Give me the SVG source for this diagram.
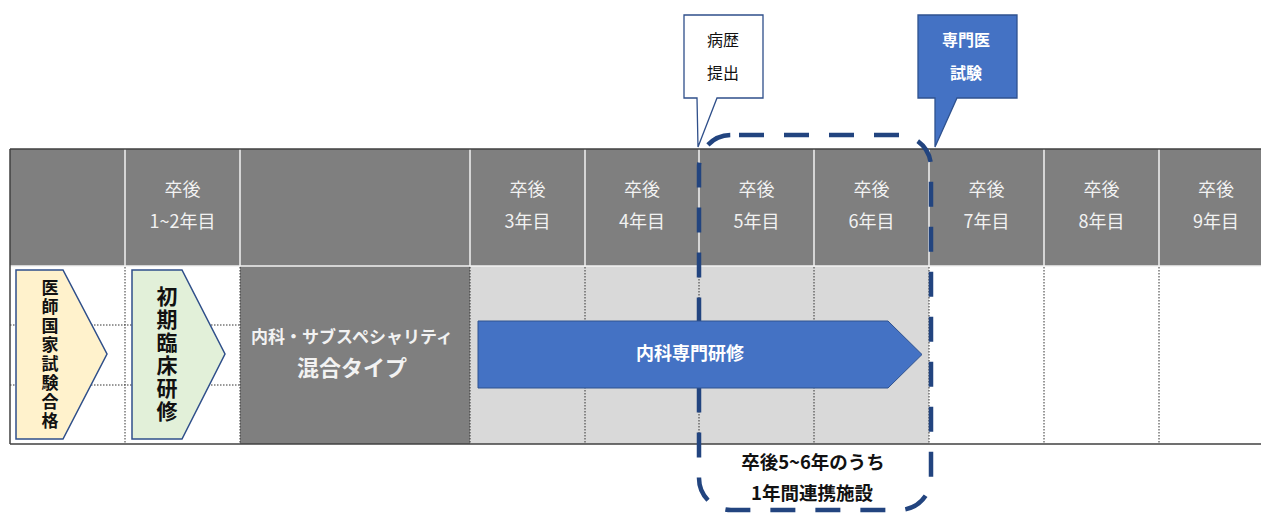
<svg xmlns="http://www.w3.org/2000/svg" width="1261" height="513" viewBox="0 0 1261 513">
<style>
.jp{font-family:"Noto Sans CJK JP","Noto Sans",sans-serif}
.hd{font-size:18px;fill:#f2f2f2;text-anchor:middle}
.dot{stroke:#333;stroke-width:1;stroke-dasharray:1.5 1.5;fill:none}
.wl{stroke:#f2f2f2;stroke-width:1.5}
.vt{font-weight:bold;fill:#111;text-anchor:middle;writing-mode:vertical-rl}
</style>
<rect width="1261" height="513" fill="#fff"/>
<g id="table">
  <rect x="10" y="149" width="1251" height="117" fill="#7f7f7f"/>
  <rect x="240" y="266" width="230" height="178" fill="#7f7f7f"/>
  <rect x="470" y="266" width="459" height="178" fill="#d9d9d9"/>
  <g class="wl">
    <line x1="125" y1="149" x2="125" y2="266"/>
    <line x1="240" y1="149" x2="240" y2="266"/>
    <line x1="470" y1="149" x2="470" y2="266"/>
    <line x1="585" y1="149" x2="585" y2="266"/>
    <line x1="699" y1="149" x2="699" y2="266"/>
    <line x1="814" y1="149" x2="814" y2="266"/>
    <line x1="929" y1="149" x2="929" y2="266"/>
    <line x1="1044" y1="149" x2="1044" y2="266"/>
    <line x1="1159" y1="149" x2="1159" y2="266"/>
    <line x1="10" y1="266" x2="1261" y2="266"/>
  </g>
  <g class="dot">
    <line x1="125" y1="267" x2="125" y2="444"/>
    <line x1="240" y1="267" x2="240" y2="444"/>
    <line x1="470" y1="267" x2="470" y2="444"/>
    <line x1="585" y1="267" x2="585" y2="444"/>
    <line x1="699" y1="267" x2="699" y2="444"/>
    <line x1="814" y1="267" x2="814" y2="444"/>
    <line x1="929" y1="267" x2="929" y2="444"/>
    <line x1="1044" y1="267" x2="1044" y2="444"/>
    <line x1="1159" y1="267" x2="1159" y2="444"/>
    <line x1="10" y1="325" x2="240" y2="325"/>
    <line x1="10" y1="385" x2="240" y2="385"/>
  </g>
  <g stroke="#404040" stroke-width="1.5" fill="none">
    <line x1="10" y1="149" x2="1261" y2="149"/>
    <line x1="10" y1="444" x2="1261" y2="444"/>
    <line x1="10" y1="149" x2="10" y2="444"/>
  </g>
  <g class="jp hd">
    <text x="182.5" y="196">卒後</text><text x="182.5" y="228">1~2年目</text>
    <text x="527.5" y="196">卒後</text><text x="527.5" y="228">3年目</text>
    <text x="642" y="196">卒後</text><text x="642" y="228">4年目</text>
    <text x="756.5" y="196">卒後</text><text x="756.5" y="228">5年目</text>
    <text x="871.5" y="196">卒後</text><text x="871.5" y="228">6年目</text>
    <text x="986.5" y="196">卒後</text><text x="986.5" y="228">7年目</text>
    <text x="1101.5" y="196">卒後</text><text x="1101.5" y="228">8年目</text>
    <text x="1216" y="196">卒後</text><text x="1216" y="228">9年目</text>
  </g>
  <text class="jp" x="352" y="343" font-size="17" font-weight="bold" fill="#f2f2f2" text-anchor="middle">内科・サブスペシャリティ</text>
  <text class="jp" x="352" y="376" font-size="22" font-weight="bold" fill="#f2f2f2" text-anchor="middle">混合タイプ</text>
</g>
<g id="pass-arrow">
  <polygon points="16,270 63,270 107,354 63,439 16,439" fill="#fff2cc" stroke="#2f4f8a" stroke-width="1.5"/>
  <text class="jp vt" x="50" y="355" font-size="17" letter-spacing="2">医師国家試験合格</text>
</g>
<g id="initial-arrow">
  <polygon points="132,270 182,270 225,354 182,439 132,439" fill="#e2f0d9" stroke="#2f4f8a" stroke-width="1.5"/>
  <text class="jp vt" x="167" y="355" font-size="21" letter-spacing="2">初期臨床研修</text>
</g>
<g id="connectors">
  <rect x="699" y="135" width="232" height="375" rx="32" fill="none" stroke="#22447f" stroke-width="4.5" stroke-dasharray="25 20" stroke-dashoffset="-8"/>
</g>
<g id="naika-arrow">
  <polygon points="478,321 888,321 922,354.5 888,388 478,388" fill="#4472c4" stroke="#2f528f" stroke-width="1"/>
  <text class="jp" x="690" y="360" font-size="18" font-weight="bold" fill="#fff" text-anchor="middle">内科専門研修</text>
</g>
<g id="renkei-label">
  <text class="jp" x="813" y="469" font-size="18.5" font-weight="bold" fill="#111" text-anchor="middle">卒後5~6年のうち</text>
  <text class="jp" x="812" y="500" font-size="18.5" font-weight="bold" fill="#111" text-anchor="middle">1年間連携施設</text>
</g>
<g id="callout-byoreki">
  <path d="M684,15 H763 V98 H717 L698,147 L697,98 H684 Z" fill="#fff" stroke="#2f4f8a" stroke-width="1.3"/>
  <text class="jp" x="723" y="46" font-size="16" fill="#111" text-anchor="middle">病歴</text>
  <text class="jp" x="723" y="79" font-size="16" fill="#111" text-anchor="middle">提出</text>
</g>
<g id="callout-senmon">
  <path d="M918,15 H1017 V98 H957 L935,147 L935,98 H918 Z" fill="#4472c4" stroke="#2f528f" stroke-width="1.3"/>
  <text class="jp" x="966" y="46" font-size="16" font-weight="bold" fill="#fff" text-anchor="middle">専門医</text>
  <text class="jp" x="966" y="79" font-size="16" font-weight="bold" fill="#fff" text-anchor="middle">試験</text>
</g>
</svg>
